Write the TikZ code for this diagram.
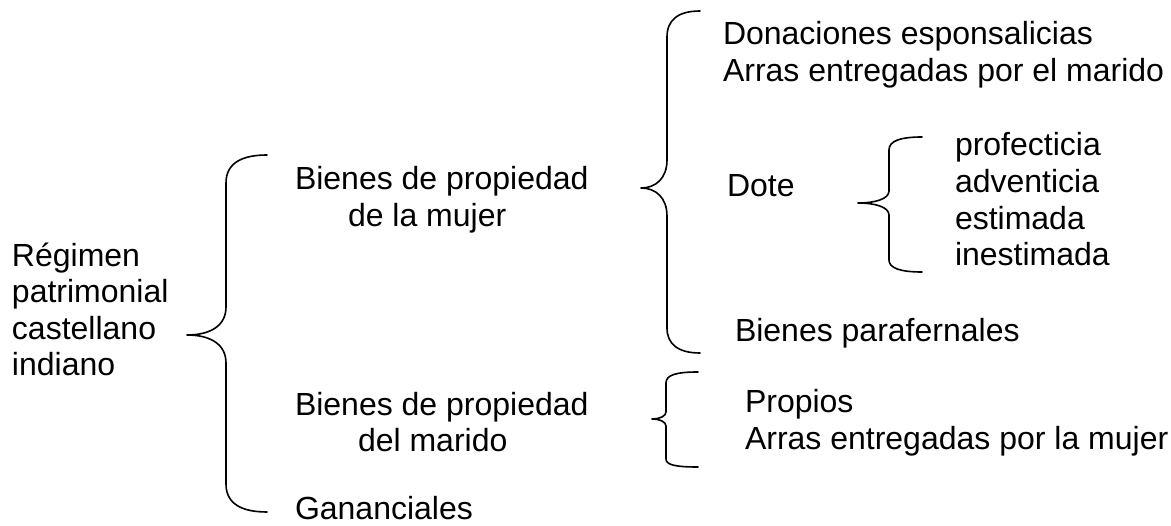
\documentclass[tikz,border=0pt]{standalone}
\usepackage{fontspec}
\setmainfont{Liberation Sans}
\begin{document}
\begin{tikzpicture}[x=1pt,y=-1pt,
  lbl/.style={anchor=base west,inner sep=0pt,outer sep=0pt,font=\fontsize{32}{37}\selectfont},
  brace/.style={line width=1.6pt,line cap=round,line join=round}]
\useasboundingbox (0,0) rectangle (1171,526);
% left block
\node[lbl] (r1) at (12,267) {Régimen};
\node[lbl] (r2) at (12,303) {patrimonial};
\node[lbl] (r3) at (12,340) {castellano};
\node[lbl] (r4) at (12,376) {indiano};
% main brace
\draw[brace] (267,155) .. controls (242,155) and (226,163) .. (226,183) -- (226,307)
  .. controls (226,326) and (210,335) .. (187,335)
  .. controls (210,335) and (226,344) .. (226,363) -- (226,484)
  .. controls (226,504) and (242,512) .. (267,512);
% second level
\node[lbl] (m1) at (295,190) {Bienes de propiedad};
\node[lbl] (m2) at (348,227) {de la mujer};
\node[lbl] (h1) at (295,416) {Bienes de propiedad};
\node[lbl] (h2) at (358,452) {del marido};
\node[lbl] (g) at (295,520) {Gananciales};
% brace for mujer
\draw[brace] (700,11) .. controls (678,11) and (667,20) .. (667,37) -- (667,160)
  .. controls (667,178) and (656,188) .. (641,188)
  .. controls (656,188) and (667,198) .. (667,216) -- (667,328)
  .. controls (667,344) and (678,353) .. (700,353);
\node[lbl] (d1) at (723,45) {Donaciones esponsalicias};
\node[lbl] (d2) at (723,82) {Arras entregadas por el marido};
\node[lbl] (dote) at (727,197) {Dote};
\node[lbl] (bp) at (735,342) {Bienes parafernales};
% brace for dote
\draw[brace] (922,137) .. controls (900,137) and (889,141) .. (889,150) -- (889,191)
  .. controls (889,199) and (875,203) .. (858,203)
  .. controls (875,203) and (889,207) .. (889,215) -- (889,260)
  .. controls (889,268) and (900,272) .. (922,272);
\node[lbl] (p1) at (955,156) {profecticia};
\node[lbl] (p2) at (955,193) {adventicia};
\node[lbl] (p3) at (955,230) {estimada};
\node[lbl] (p4) at (955,266) {inestimada};
% brace for marido
\draw[brace] (698,372) .. controls (676,372) and (666,375) .. (666,383) -- (666,412)
  .. controls (666,416) and (660,419) .. (652,419)
  .. controls (660,419) and (666,422) .. (666,426) -- (666,459)
  .. controls (666,465) and (676,467) .. (698,467);
\node[lbl] (o1) at (745,413) {Propios};
\node[lbl] (o2) at (745,450) {Arras entregadas por la mujer};
\end{tikzpicture}
\end{document}
